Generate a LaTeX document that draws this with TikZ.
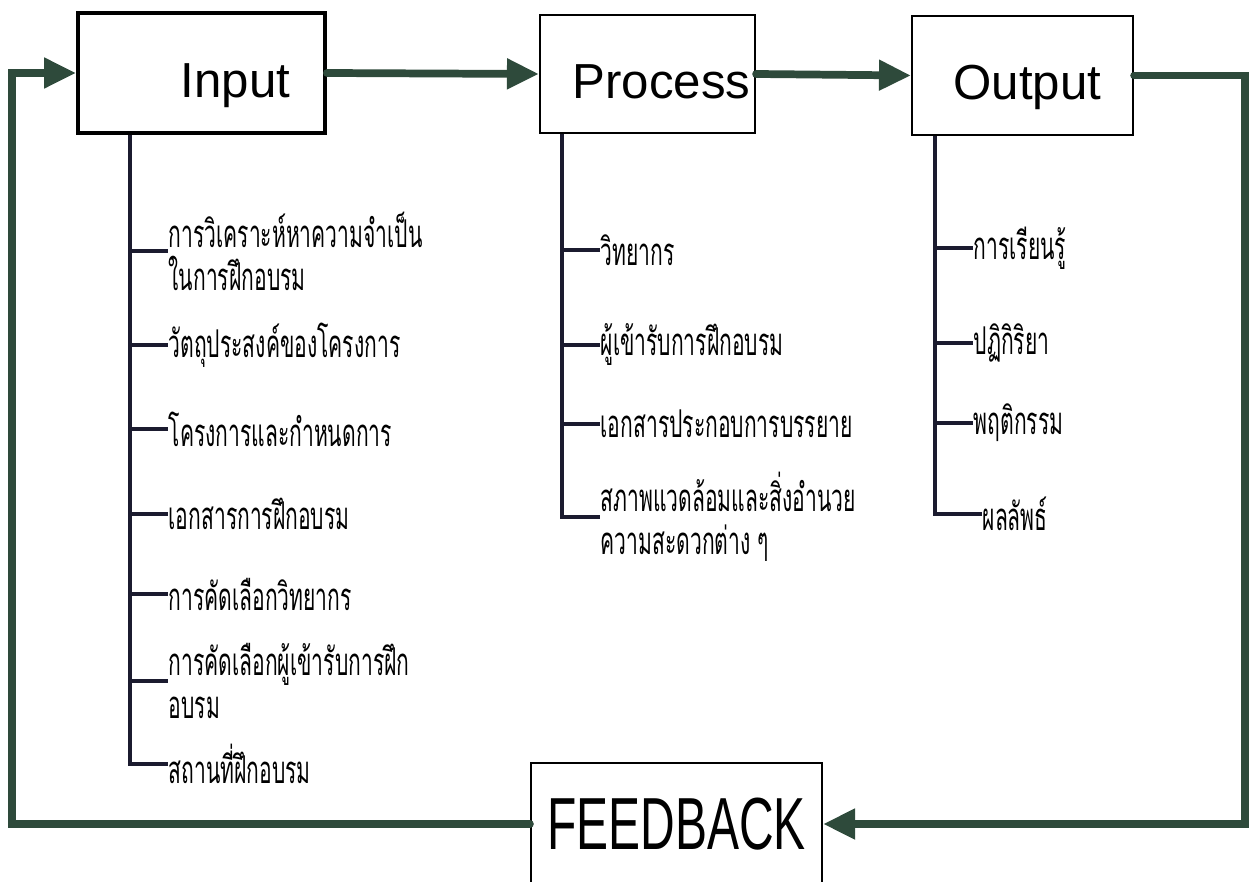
\documentclass[tikz,border=0pt]{standalone}
\usepackage{fontspec}
\setmainfont{Liberation Sans}
\newfontfamily\thaifont[Script=Thai,FakeStretch=0.55]{Loma}
\usepackage{tikz}
\usetikzlibrary{arrows.meta,positioning}
\definecolor{flowgreen}{HTML}{2E4A3B}
\definecolor{stemink}{HTML}{1B1B2F}

\begin{document}
\begin{tikzpicture}[
  block/.style={draw=black,line width=0.6pt,minimum width=2.15cm,minimum height=1.18cm,
                inner sep=0pt,text height=0.49cm,text depth=0pt,font=\fontsize{14}{16}\selectfont},
  item/.style={anchor=west,inner sep=0pt,align=left,
               font=\thaifont\fontsize{10.9}{12.2}\selectfont},
  stem/.style={draw=stemink,line width=1.1pt},
  flow/.style={-{Triangle[length=0.32cm,width=0.29cm]},draw=flowgreen,line width=2.2pt,
               line cap=round,line join=miter}
]
\useasboundingbox (0,0) rectangle (12.54,-8.81);

% main blocks
\node[block,line width=1.1pt,minimum width=2.47cm,minimum height=1.20cm] (input) at (2.015,-0.73) {\hspace*{0.68cm}Input};
\node[block,minimum width=2.15cm] (process) at (6.475,-0.74) {\hspace*{0.28cm}Process};
\node[block,minimum width=2.21cm,minimum height=1.19cm] (output) at (10.225,-0.755) {\hspace*{0.1cm}Output};
\node[block,minimum width=2.91cm,minimum height=1.22cm,text height=,text depth=,
      font=\fontsize{21}{24}\selectfont] (feedback) at (6.765,-8.24) {\scalebox{0.65}[1]{FEEDBACK}};

% input items
\node[item] (i1) at (1.68,-2.51) {การวิเคราะห์หาความจำเป็น\\ในการฝึกอบรม};
\node[item] (i2) at (1.68,-3.45) {วัตถุประสงค์ของโครงการ};
\node[item] (i3) at (1.68,-4.29) {โครงการและกำหนดการ};
\node[item] (i4) at (1.68,-5.14) {เอกสารการฝึกอบรม};
\node[item] (i5) at (1.68,-5.94) {การคัดเลือกวิทยากร};
\node[item] (i6) at (1.68,-6.81) {การคัดเลือกผู้เข้ารับการฝึก\\อบรม};
\node[item] (i7) at (1.68,-7.64) {สถานที่ฝึกอบรม};

% process items
\node[item] (p1) at (6.00,-2.50) {วิทยากร};
\node[item] (p2) at (6.00,-3.45) {ผู้เข้ารับการฝึกอบรม};
\node[item] (p3) at (6.00,-4.24) {เอกสารประกอบการบรรยาย};
\node[item] (p4) at (6.00,-5.17) {สภาพแวดล้อมและสิ่งอำนวย\\ความสะดวกต่าง ๆ};

% output items
\node[item] (o1) at (9.73,-2.48) {การเรียนรู้};
\node[item] (o2) at (9.73,-3.43) {ปฏิกิริยา};
\node[item] (o3) at (9.73,-4.23) {พฤติกรรม};
\node[item] (o4) at (9.82,-5.14) {ผลลัพธ์};

% stems
\coordinate (istem) at (1.30,0);
\coordinate (pstem) at (5.62,0);
\coordinate (ostem) at (9.35,0);
\draw[stem] (input.south -| istem) -- (istem |- i7.west) -- (i7.west);
\draw[stem] (process.south -| pstem) -- (pstem |- p4.west) -- (p4.west);
\draw[stem] (output.south -| ostem) -- (ostem |- o4.west) -- (o4.west);
\foreach \n in {i1,i2,i3,i4,i5,i6}{\draw[stem] (istem |- \n.west) -- (\n.west);}
\foreach \n in {p1,p2,p3}{\draw[stem] (pstem |- \n.west) -- (\n.west);}
\foreach \n in {o1,o2,o3}{\draw[stem] (ostem |- \n.west) -- (\n.west);}

% flow arrows
\coordinate (rc) at (12.45,0);
\coordinate (lc) at (0.12,0);
\draw[flow] (input.east) -- (process.west);
\draw[flow] (process.east) -- (output.west);
\draw[flow] (output.east) -- (output.east -| rc) -- (rc |- feedback.east) -- (feedback.east);
\draw[flow] (feedback.west) -- (feedback.west -| lc) -- (lc |- input.west) -- (input.west);
\end{tikzpicture}
\end{document}
